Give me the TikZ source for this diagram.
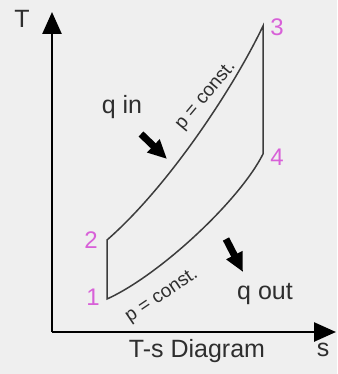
\documentclass[tikz,border=0pt]{standalone}
\usepackage{fontspec}
\setmainfont{Liberation Sans}
\usetikzlibrary{arrows.meta}
\definecolor{bg}{HTML}{EFEFEF}
\definecolor{ink}{HTML}{2E2E2E}
\definecolor{line}{HTML}{3C3C3C}
\definecolor{mag}{HTML}{D860D8}
\tikzset{
  axis/.style={line width=2.6pt, draw=black, -{Triangle[length=22pt,width=19pt]}},
  cyc/.style={line width=1.5pt, draw=line},
  fat/.style={line width=7pt, draw=black, -{Triangle[length=19pt,width=17pt]}},
  lbl/.style={font=\fontsize{25}{28}\selectfont, text=ink, inner sep=0pt},
  num/.style={font=\fontsize{24}{26}\selectfont, text=mag, inner sep=0pt},
  pc/.style={font=\fontsize{19}{22}\selectfont, text=ink, inner sep=0pt}
}
\begin{document}
\begin{tikzpicture}[x=1pt,y=-1pt]
\useasboundingbox[fill=bg] (0,0) rectangle (337,374);
% axes
\coordinate (O) at (52,332);
\coordinate (Ttip) at (52,12);
\coordinate (Stip) at (336,332);
\draw[axis] (O) -- (Ttip);
\draw[axis] (O) -- (Stip);
\node[lbl] (T) at (22,19) {T};
\node[lbl] (s) at (323,350) {s};
\node[lbl] (title) at (197,351) {T-s Diagram};
% cycle points
\coordinate (p1) at (107,299);
\coordinate (p2) at (107,240);
\coordinate (p3) at (263,26);
\coordinate (p4) at (263,154);
\draw[cyc] (p1) -- (p2) .. controls (170,185) and (235,85) .. (p3) -- (p4) .. controls (240,200) and (160,275) .. (p1) -- cycle;
% numbers
\node[num] (n1) at (93,297) {1};
\node[num] (n2) at (91,240) {2};
\node[num] (n3) at (277,27) {3};
\node[num] (n4) at (277,157) {4};
% p = const labels
\node[pc, rotate=50] (pc1) at (206,96) {p = const.};
\node[pc, rotate=34] (pc2) at (162,296) {p = const.};
% heat
\node[lbl] (qin) at (122,107) {q in};
\node[lbl] (qout) at (265,294) {q out};
\coordinate (qa1) at (141,134);
\coordinate (qa2) at (167,159);
\coordinate (qb1) at (226,239);
\coordinate (qb2) at (243,272);
\draw[fat] (qa1) -- (qa2);
\draw[fat] (qb1) -- (qb2);
\end{tikzpicture}
\end{document}
